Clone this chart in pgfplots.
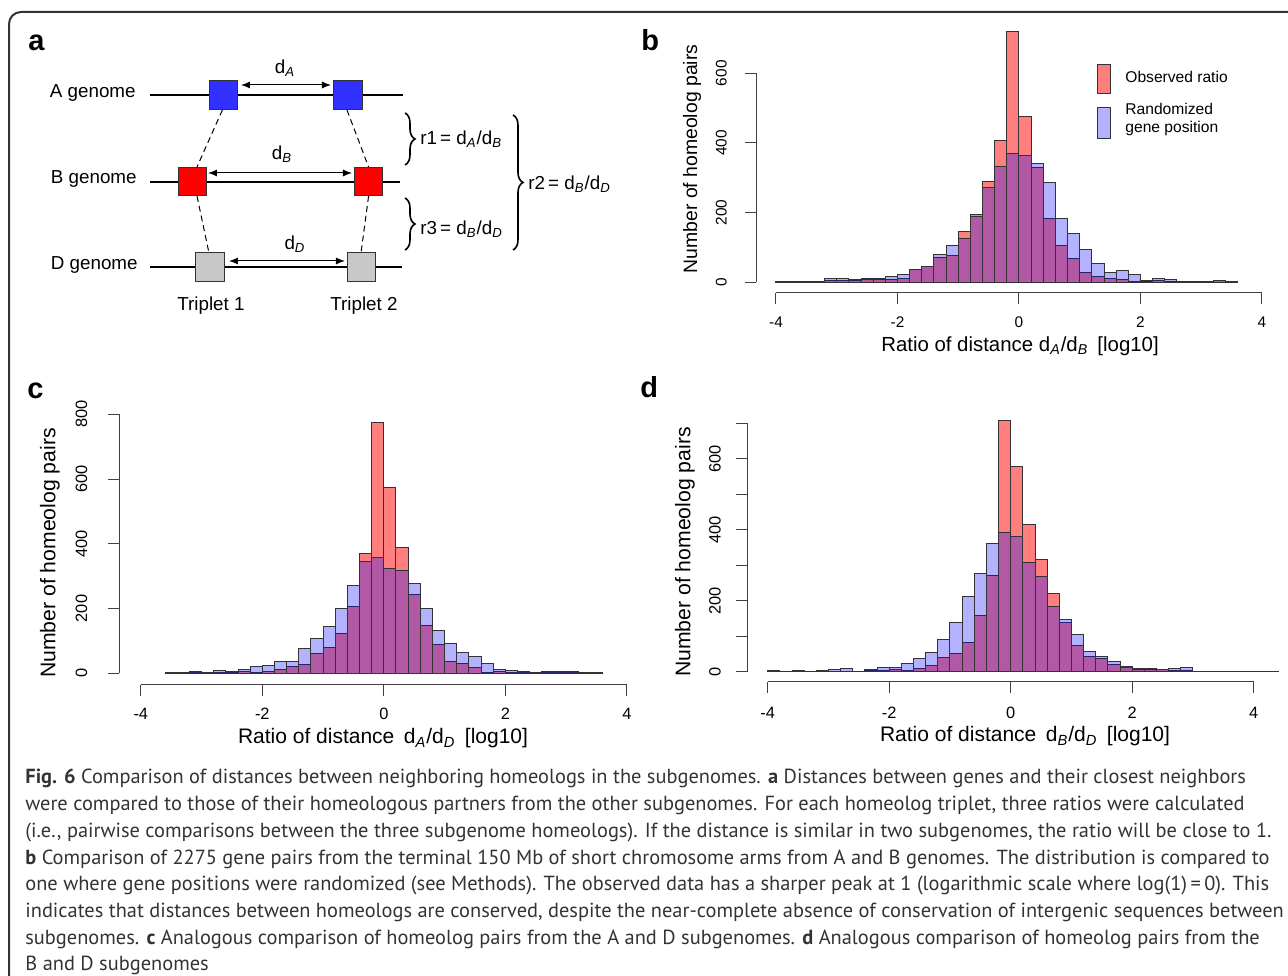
\documentclass[border=0pt]{standalone}
\usepackage{fontspec}
\setmainfont{Liberation Sans}
\newfontfamily\capfont{PT Sans}
\usepackage{pgfplots}
\pgfplotsset{compat=1.18}
\usepackage{pgfplotstable}
\usetikzlibrary{arrows.meta,decorations.pathreplacing}

\newcommand{\sub}[1]{\textsubscript{\itshape #1}}
\newcommand{\dia}{\fontsize{9.4bp}{11bp}\selectfont}

\definecolor{sqblue}{RGB}{48,48,255}
\definecolor{sqred}{RGB}{255,0,0}
\definecolor{sqgray}{RGB}{200,200,200}

\pgfplotstableread{
x obs rand
-3.9 2 2
-3.7 1 1
-3.5 2 2
-3.3 1 1
-3.1 5 11
-2.9 5 10
-2.7 4 8
-2.5 7 12
-2.3 8 11
-2.1 9 18
-1.9 11 21
-1.7 36 38
-1.5 46 44
-1.3 70 81
-1.1 77 105
-0.9 145 125
-0.7 194 190
-0.5 290 273
-0.3 407 332
-0.1 721 370
0.1 476 364
0.3 329 341
0.5 182 286
0.7 107 184
0.9 68 139
1.1 28 94
1.3 16 54
1.5 10 29
1.7 8 34
1.9 3 23
2.1 3 6
2.3 5 10
2.5 3 8
2.7 3 3
2.9 2 2
3.1 1 1
3.3 4 4
3.5 2 2
}\dataB

\pgfplotstableread{
x obs rand
-3.5 2 2
-3.3 2 3
-3.1 3 5
-2.9 3 3
-2.7 2 9
-2.5 1 7
-2.3 5 11
-2.1 3 20
-1.9 5 24
-1.7 12 36
-1.5 21 35
-1.3 27 77
-1.1 62 108
-0.9 81 146
-0.7 122 199
-0.5 207 271
-0.3 369 344
-0.1 775 358
0.1 573 324
0.3 388 317
0.5 243 277
0.7 149 201
0.9 90 131
1.1 37 93
1.3 31 64
1.5 17 51
1.7 4 31
1.9 6 13
2.1 2 8
2.3 3 5
2.5 1 3
2.7 2 5
2.9 2 5
3.1 2 5
3.3 1 2
3.5 1 1
}\dataC

\pgfplotstableread{
x obs rand
-3.9 2 2
-3.7 0 0
-3.5 2 2
-3.3 1 1
-3.1 2 2
-2.9 1 6
-2.7 1 9
-2.5 0 0
-2.3 3 6
-2.1 4 11
-1.9 7 12
-1.7 4 23
-1.5 8 38
-1.3 17 53
-1.1 41 92
-0.9 51 139
-0.7 83 211
-0.5 159 277
-0.3 270 361
-0.1 707 392
0.1 577 380
0.3 415 308
0.5 317 267
0.7 221 185
0.9 139 146
1.1 73 105
1.3 44 58
1.5 38 44
1.7 20 30
1.9 14 12
2.1 6 9
2.3 6 9
2.5 5 5
2.7 3 8
2.9 2 12
3.1 1 1
3.3 1 1
3.5 0 0
3.7 1 1
3.9 1 1
4.1 0 0
4.3 1 1
}\dataD

\pgfplotsset{
  hist/.style={
    scale only axis, clip=false,
    axis lines*=left,
    axis line style={draw=none},
    tick align=outside,
    major tick length=5.5bp,
    tick style={black!75, line width=0.5bp},
    xtick={-4,-2,0,2,4}, xticklabels={-4,-2,0,2,4},
    yticklabel style={rotate=90, anchor=south},
  },
  obs/.style={ybar, bar width=0.2, bar shift=0pt, draw=black!80, line width=0.5bp, fill=red, fill opacity=0.5},
  rnd/.style={ybar, bar width=0.2, bar shift=0pt, draw=black!80, line width=0.5bp, fill=blue, fill opacity=0.3},
}

\begin{document}
\begin{tikzpicture}
\useasboundingbox (0,0) rectangle (644bp,488bp);
% frame
\draw[line width=1bp, black!80, rounded corners=6bp] (4.5bp,-30bp) rectangle (670bp,482bp);

% ---------------- panel a ----------------
\begin{axis}[scale only axis, at={(0bp,323bp)}, anchor=south west,
  width=320bp, height=155bp, xmin=0, xmax=640, ymin=646, ymax=956,
  axis lines=none, clip=false]
  % genome lines
  \addplot[black, line width=1.1bp, no marks] coordinates {(150,881) (403,881)};
  \addplot[black, line width=1.1bp, no marks] coordinates {(150,794) (400,794)};
  \addplot[black, line width=1.1bp, no marks] coordinates {(150,709) (402,709)};
  % dashed links
  \addplot[black, densely dashed, line width=0.5bp, no marks] coordinates {(222.4,866) (197,809)};
  \addplot[black, densely dashed, line width=0.5bp, no marks] coordinates {(347,866) (368.6,809)};
  \addplot[black, densely dashed, line width=0.5bp, no marks] coordinates {(197,780) (209,723)};
  \addplot[black, densely dashed, line width=0.5bp, no marks] coordinates {(368.6,780) (361,723)};
  % distance arrows
  \addplot[black, line width=0.5bp, no marks, {Latex[length=4.5bp,width=3.5bp]}-{Latex[length=4.5bp,width=3.5bp]}] coordinates {(241,891) (331,891)};
  \addplot[black, line width=0.5bp, no marks, {Latex[length=4.5bp,width=3.5bp]}-{Latex[length=4.5bp,width=3.5bp]}] coordinates {(208,803) (352,803)};
  \addplot[black, line width=0.5bp, no marks, {Latex[length=4.5bp,width=3.5bp]}-{Latex[length=4.5bp,width=3.5bp]}] coordinates {(229,715) (345,715)};
  % genes
  \addplot[only marks, mark=square*, mark size=7.2bp, mark options={fill=sqblue, draw=black!80, line width=0.5bp}] coordinates {(223.5,881) (348,881)};
  \addplot[only marks, mark=square*, mark size=7.2bp, mark options={fill=sqred, draw=black!80, line width=0.5bp}] coordinates {(192.6,794.5) (368.6,794.5)};
  \addplot[only marks, mark=square*, mark size=7.2bp, mark options={fill=sqgray, draw=black!80, line width=0.5bp}] coordinates {(210,709) (361.5,709)};
  % braces
  \draw[decorate, decoration={brace, amplitude=5bp}, line width=0.8bp] (axis cs:405,863) -- (axis cs:405,811);
  \draw[decorate, decoration={brace, amplitude=5bp}, line width=0.8bp] (axis cs:405,778) -- (axis cs:405,726);
  \draw[decorate, decoration={brace, amplitude=5bp}, line width=0.8bp] (axis cs:513,861) -- (axis cs:513,726);
  % texts
  \node[font=\dia, anchor=east, inner sep=0] at (axis cs:136,883) {A genome};
  \node[font=\dia, anchor=east, inner sep=0] at (axis cs:137,797) {B genome};
  \node[font=\dia, anchor=east, inner sep=0] at (axis cs:138,711) {D genome};
  \node[font=\dia] at (axis cs:285,908) {d\sub{A}};
  \node[font=\dia] at (axis cs:282,822) {d\sub{B}};
  \node[font=\dia] at (axis cs:295,732) {d\sub{D}};
  \node[font=\dia, anchor=west, inner sep=0] at (axis cs:420,837) {r1\,= d\sub{A}/d\sub{B}};
  \node[font=\dia, anchor=west, inner sep=0] at (axis cs:420,747) {r3\,= d\sub{B}/d\sub{D}};
  \node[font=\dia, anchor=west, inner sep=0] at (axis cs:528,792) {r2\,= d\sub{B}/d\sub{D}};
  \node[font=\dia] at (axis cs:211,670) {Triplet 1};
  \node[font=\dia] at (axis cs:364,670) {Triplet 2};
\end{axis}

% ---------------- panel b ----------------
\begin{axis}[hist, at={(378bp,341.65bp)}, anchor=south west,
  width=262.1bp, height=134.1bp, xmin=-4.329, xmax=4.3, ymin=-29.9, ymax=740,
  tick label style={font=\fontsize{7.7bp}{8.5bp}\selectfont, text=black},
  ytick={0,200,400,600}, yticklabels={0,200,400,600},
  xticklabel shift=3.2bp, yticklabel shift=5.6bp]
  \addplot[obs] table[x=x, y=obs] {\dataB};
  \addplot[rnd] table[x=x, y=rand] {\dataB};
  \draw[black!75, line width=0.5bp] (axis cs:-4,-29.9) -- (axis cs:4,-29.9);
  \draw[black!75, line width=0.5bp] (axis cs:-4.329,0) -- (axis cs:-4.329,600);
\end{axis}

% ---------------- panel c ----------------
\begin{axis}[hist, at={(59.65bp,145.5bp)}, anchor=south west,
  width=262.87bp, height=138.6bp, xmin=-4.354, xmax=4.3, ymin=-36.1, ymax=820,
  tick label style={font=\fontsize{8.2bp}{9bp}\selectfont, text=black},
  ytick={0,200,400,600,800}, yticklabels={0,200,400,600,800},
  xticklabel shift=2.6bp, yticklabel shift=7bp]
  \addplot[obs] table[x=x, y=obs] {\dataC};
  \addplot[rnd] table[x=x, y=rand] {\dataC};
  \draw[black!75, line width=0.5bp] (axis cs:-4,-36.1) -- (axis cs:4,-36.1);
  \draw[black!75, line width=0.5bp] (axis cs:-4.354,0) -- (axis cs:-4.354,800);
\end{axis}

% ---------------- panel d ----------------
\begin{axis}[hist, at={(373.65bp,147.15bp)}, anchor=south west,
  width=268.4bp, height=136.3bp, xmin=-4.336, xmax=4.5, ymin=-28.2, ymax=740,
  tick label style={font=\fontsize{8.2bp}{9bp}\selectfont, text=black},
  ytick={0,100,200,300,400,500,600,700}, yticklabels={0,,200,,400,,600,},
  xticklabel shift=3.6bp, yticklabel shift=4.2bp]
  \addplot[obs] table[x=x, y=obs] {\dataD};
  \addplot[rnd] table[x=x, y=rand] {\dataD};
  \draw[black!75, line width=0.5bp] (axis cs:-4,-28.2) -- (axis cs:4,-28.2);
  \draw[black!75, line width=0.5bp] (axis cs:-4.336,0) -- (axis cs:-4.336,700);
\end{axis}

% legend (panel b)
\draw[draw=black!80, line width=0.5bp, fill=red, fill opacity=0.5] (548.85bp,441bp) rectangle (555.35bp,455.5bp);
\draw[draw=black!80, line width=0.5bp, fill=blue, fill opacity=0.3] (548.85bp,418.5bp) rectangle (555.35bp,434.35bp);
\node[font=\fontsize{7.8bp}{8.7bp}\selectfont, anchor=west, inner sep=0] at (562.5bp,449.65bp) {Observed ratio};
\node[font=\fontsize{7.8bp}{8.7bp}\selectfont, anchor=west, inner sep=0, align=left] at (562.5bp,428.3bp) {Randomized\\gene position};

% axis labels
\node[font=\fontsize{9.7bp}{11bp}\selectfont, rotate=90] at (346bp,408.5bp) {Number of homeolog pairs};
\node[font=\fontsize{10.2bp}{11bp}\selectfont, anchor=base] at (510bp,312bp) {Ratio of distance d\sub{A}/d\sub{B}\hspace{0.45em}[log10]};
\node[font=\fontsize{10.6bp}{11bp}\selectfont, rotate=90] at (25bp,211.5bp) {Number of homeolog pairs};
\node[font=\fontsize{10.5bp}{11bp}\selectfont, anchor=base] at (191.5bp,116bp) {Ratio of distance\hspace{0.45em}d\sub{A}/d\sub{D}\hspace{0.45em}[log10]};
\node[font=\fontsize{10.6bp}{11bp}\selectfont, rotate=90] at (342.5bp,212bp) {Number of homeolog pairs};
\node[font=\fontsize{10.5bp}{11bp}\selectfont, anchor=base] at (512.5bp,117bp) {Ratio of distance\hspace{0.45em}d\sub{B}/d\sub{D}\hspace{0.45em}[log10]};

% panel letters
\node[font=\fontsize{14.5bp}{16bp}\selectfont\bfseries, anchor=base west, inner sep=0] at (14bp,462.5bp) {a};
\node[font=\fontsize{14.5bp}{16bp}\selectfont\bfseries, anchor=base west, inner sep=0] at (320.5bp,462.5bp) {b};
\node[font=\fontsize{14.5bp}{16bp}\selectfont\bfseries, anchor=base west, inner sep=0] at (13.5bp,288.5bp) {c};
\node[font=\fontsize{14.5bp}{16bp}\selectfont\bfseries, anchor=base west, inner sep=0] at (320bp,289bp) {d};

% caption
\begin{scope}[every node/.style={anchor=base west, inner sep=0, text=black!80, font=\capfont\fontsize{10.2bp}{11bp}\selectfont}]
\node at (12.5bp,96bp) {\textbf{Fig. 6} Comparison of distances between neighboring homeologs in the subgenomes. \textbf{a} Distances between genes and their closest neighbors};
\node at (12.5bp,82.65bp) {were compared to those of their homeologous partners from the other subgenomes. For each homeolog triplet, three ratios were calculated};
\node at (12.5bp,69.3bp) {(i.e., pairwise comparisons between the three subgenome homeologs). If the distance is similar in two subgenomes, the ratio will be close to 1.};
\node at (12.5bp,55.95bp) {\textbf{b} Comparison of 2275 gene pairs from the terminal 150 Mb of short chromosome arms from A and B genomes. The distribution is compared to};
\node at (12.5bp,42.6bp) {one where gene positions were randomized (see Methods). The observed data has a sharper peak at 1 (logarithmic scale where log(1)\,=\,0). This};
\node at (12.5bp,29.25bp) {indicates that distances between homeologs are conserved, despite the near-complete absence of conservation of intergenic sequences between};
\node at (12.5bp,15.9bp) {subgenomes. \textbf{c} Analogous comparison of homeolog pairs from the A and D subgenomes. \textbf{d} Analogous comparison of homeolog pairs from the};
\node at (12.5bp,2.55bp) {B and D subgenomes};
\end{scope}
\end{tikzpicture}
\end{document}
